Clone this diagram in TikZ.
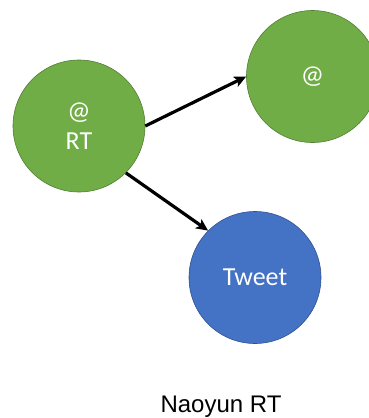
\documentclass[tikz,border=0pt]{standalone}
\usepackage{fontspec}
\setmainfont{Liberation Sans}
\newfontfamily\bubblefont{Carlito}
\usetikzlibrary{arrows.meta}
\definecolor{leafgreen}{HTML}{70AD47}
\definecolor{leafedge}{HTML}{507E32}
\definecolor{tweetblue}{HTML}{4472C4}
\definecolor{tweetedge}{HTML}{2F528F}
\tikzset{
  bubble/.style={circle, minimum size=132pt, inner sep=0pt, line width=0.6pt,
    text=white, align=center, font=\bubblefont\fontsize{26}{30}\selectfont},
  account/.style={bubble, fill=leafgreen, draw=leafedge},
  post/.style={bubble, fill=tweetblue, draw=tweetedge},
  link/.style={line width=3.2pt, -{Stealth[length=12pt, width=11pt, inset=3pt]}}
}
\begin{document}
\begin{tikzpicture}[x=1pt, y=-1pt]
  \useasboundingbox (0,0) rectangle (369,418);
  \clip (0,0) rectangle (369,418);
  \node[account] (rt) at (79,126) {@\\RT};
  \node[account] (at) at (312.5,76.5) {@};
  \node[post] (tw) at (255,277.5) {Tweet};
  \node[font=\fontsize{24}{28}\selectfont, anchor=base] (cap) at (221,412) {Naoyun RT};
  \draw[link] (rt.east) -- (at.west);
  \draw[link] (rt.south east) -- (tw.north west);
\end{tikzpicture}
\end{document}
